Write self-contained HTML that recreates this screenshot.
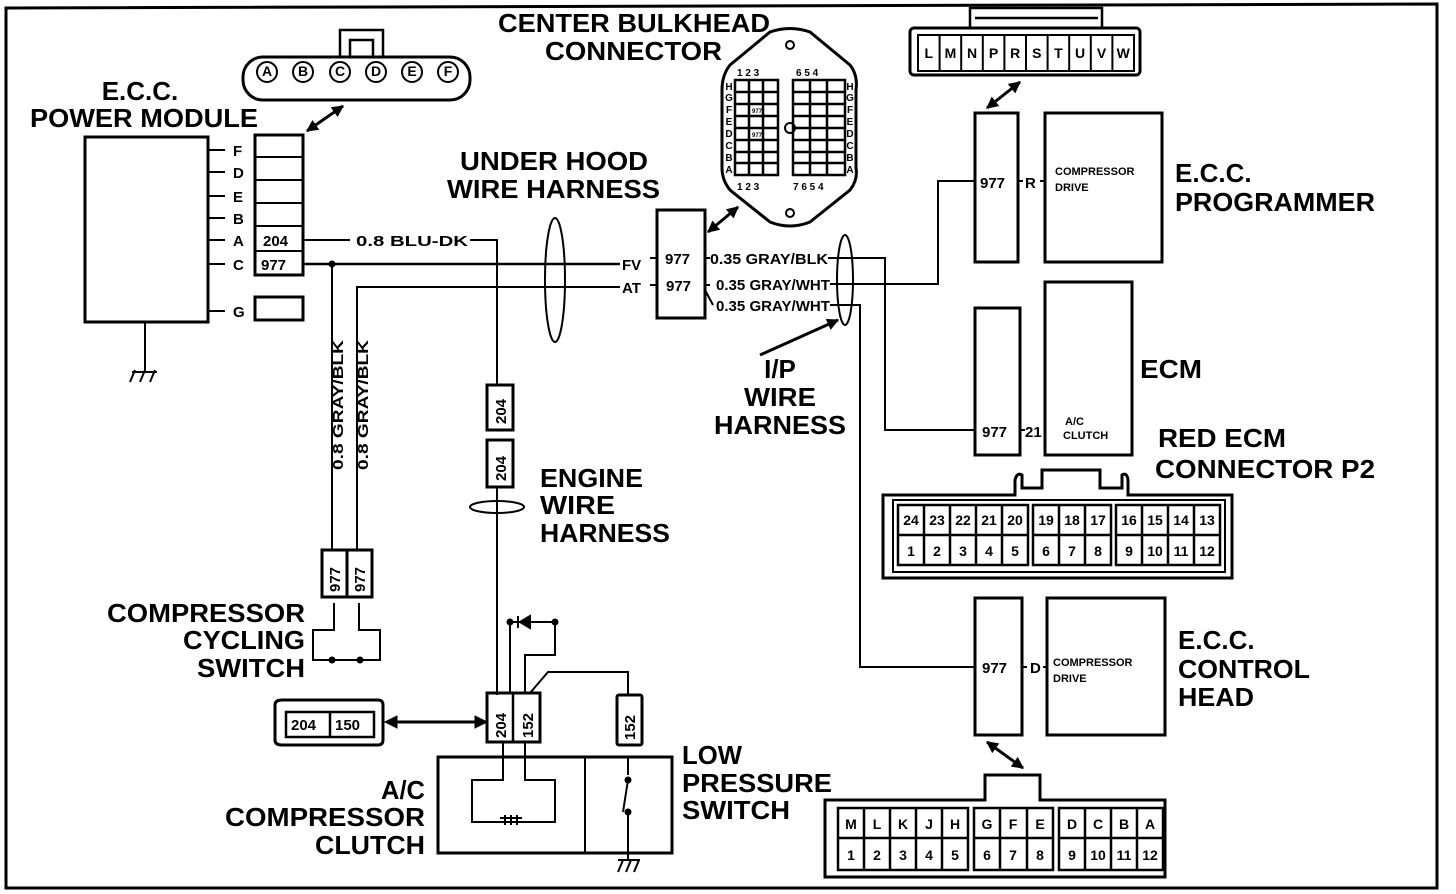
<!DOCTYPE html>
<html><head><meta charset="utf-8"><style>
html,body{margin:0;padding:0;background:#fff;}
svg{display:block;}
text{font-family:"Liberation Sans",sans-serif;fill:#000;}
.t{font-size:26px;font-weight:bold;}
.s{font-size:15px;font-weight:bold;}
.x{font-size:11px;font-weight:bold;}
.c{font-size:14px;font-weight:bold;text-anchor:middle;}
</style></head><body>
<svg width="1456" height="894" viewBox="0 0 1456 894" xmlns="http://www.w3.org/2000/svg">
<defs>
<marker id="ah" viewBox="0 0 10 10" refX="9" refY="5" markerWidth="4" markerHeight="4" orient="auto-start-reverse" markerUnits="strokeWidth">
<path d="M0 0 L10 5 L0 10 Z" fill="#000"/></marker>
</defs>
<g fill="none" stroke="#000">
<path d="M6 8 L1437 4 L1437 888 L6 888 Z" stroke-width="3"/>
<rect x="85" y="137" width="123" height="185" stroke-width="3"/>
<path d="M145 322 V372 M130 382 l5 -12 M140 382 l5 -12 M150 382 l5 -12 M132 372 h25" stroke-width="2"/>
<path d="M208 150 h17 M208 172 h17 M208 196 h17 M208 218 h17 M208 240 h17 M208 264 h17 M208 311 h17" stroke-width="2"/>
<rect x="255" y="135" width="48" height="140" stroke-width="3"/>
<path d="M255 157 h48 M255 180 h48 M255 203 h48 M255 226 h48 M255 251 h48" stroke-width="2"/>
<rect x="255" y="297" width="48" height="23" stroke-width="3"/>
<rect x="243" y="57" width="227" height="43" rx="20" stroke-width="3"/>
<path d="M340 57 V30 H383 V57 M350 57 V40 H373 V57" stroke-width="2.5"/>
<g stroke-width="2"><circle cx="267" cy="72" r="10"/><circle cx="303" cy="72" r="10"/><circle cx="340" cy="72" r="10"/><circle cx="376" cy="72" r="10"/><circle cx="412" cy="72" r="10"/><circle cx="448" cy="72" r="10"/></g>
<path d="M307 131 L343 106" stroke-width="3" marker-start="url(#ah)" marker-end="url(#ah)"/>
<path d="M303 240 H350 M470 240 H497 V385" stroke-width="2"/>
<path d="M303 264 H620" stroke-width="2.5"/>
<path d="M332 264 V550 M357 550 V287 H620" stroke-width="2"/>
<ellipse cx="555" cy="280" rx="10" ry="62" stroke-width="2"/>
<ellipse cx="497" cy="507" rx="27" ry="6" stroke-width="2"/>
<rect x="487" y="385" width="26" height="45" stroke-width="3"/>
<rect x="487" y="440" width="26" height="47" stroke-width="3"/>
<path d="M497 487 V695" stroke-width="2"/>
<rect x="657" y="210" width="48" height="108" stroke-width="3"/>
<path d="M650 258 h7 M650 285 h7" stroke-width="2"/>
<path d="M708 232 L738 207" stroke-width="3" marker-start="url(#ah)" marker-end="url(#ah)"/>
<path d="M770 32 Q790 25 810 32 L850 65 Q858 75 856 90 L856 168 Q858 180 850 190 L810 222 Q790 230 770 222 L730 190 Q722 180 722 168 L722 90 Q722 75 730 65 Z" stroke-width="3"/>
<circle cx="790" cy="45" r="4" stroke-width="2"/><circle cx="790" cy="128" r="5" stroke-width="2"/><circle cx="790" cy="213" r="4" stroke-width="2"/>
<g stroke-width="2.5">
<rect x="735" y="80" width="43" height="95"/>
<path d="M735 92 h43 M735 104 h43 M735 116 h43 M735 128 h43 M735 140 h43 M735 152 h43 M735 163 h43 M749 80 v95 M763 80 v95"/>
<rect x="793" y="80" width="52" height="95"/>
<path d="M793 92 h52 M793 104 h52 M793 116 h52 M793 128 h52 M793 140 h52 M793 152 h52 M793 163 h52 M810 80 v95 M827 80 v95"/>
</g>
<path d="M705 258 h5 M705 285 h5 M705 290 l8 15" stroke-width="2"/>
<path d="M828 258 H885 V430 H975" stroke-width="2"/>
<path d="M830 284 H938 V181 H975" stroke-width="2"/>
<path d="M830 305 H860 V667 H975" stroke-width="2"/>
<ellipse cx="845" cy="280" rx="8" ry="45" stroke-width="2"/>
<path d="M760 355 L838 320" stroke-width="3" marker-end="url(#ah)"/>
<rect x="910" y="28" width="230" height="47" rx="4" stroke-width="3"/>
<path d="M970 28 V8 H1102 V28 M975 18 H1098" stroke-width="2.5"/>
<rect x="918" y="35" width="216" height="36" stroke-width="2"/>
<path d="M939.6 35 v36 M961.2 35 v36 M982.8 35 v36 M1004.4 35 v36 M1026 35 v36 M1047.6 35 v36 M1069.2 35 v36 M1090.8 35 v36 M1112.4 35 v36" stroke-width="2"/>
<path d="M987 108 L1020 82" stroke-width="3" marker-start="url(#ah)" marker-end="url(#ah)"/>
<rect x="975" y="113" width="43" height="149" stroke-width="3"/>
<rect x="1045" y="113" width="117" height="149" stroke-width="3"/>
<path d="M1018 181 h5 M1040 181 h5" stroke-width="2"/>
<rect x="975" y="308" width="45" height="147" stroke-width="3"/>
<rect x="1045" y="282" width="87" height="173" stroke-width="3"/>
<path d="M1020 430 h5" stroke-width="2"/>
<path d="M883 495 H1015 V480 Q1017 472 1022 475 V488 H1042 V470 H1100 V488 H1122 V475 Q1127 472 1128 480 V495 H1232 V578 H883 Z" stroke-width="3"/>
<rect x="893" y="500" width="332" height="72" stroke-width="2"/>
<g stroke-width="2.5">
<rect x="898" y="505" width="130" height="60"/><rect x="1033" y="505" width="78" height="60"/><rect x="1116" y="505" width="104" height="60"/>
<path d="M898 535 h130 M1033 535 h78 M1116 535 h104 M924 505 v60 M950 505 v60 M976 505 v60 M1002 505 v60 M1059 505 v60 M1085 505 v60 M1142 505 v60 M1168 505 v60 M1194 505 v60"/>
</g>
<rect x="975" y="598" width="47" height="137" stroke-width="3"/>
<rect x="1047" y="598" width="118" height="137" stroke-width="3"/>
<path d="M1022 667 h5 M1043 667 h5" stroke-width="2"/>
<path d="M987 742 L1023 768" stroke-width="3" marker-start="url(#ah)" marker-end="url(#ah)"/>
<path d="M825 800 H985 V775 H1040 V800 H1165 V877 H825 Z" stroke-width="3"/>
<g stroke-width="2.5">
<rect x="838" y="808" width="130" height="62"/><rect x="974" y="808" width="79" height="62"/><rect x="1059" y="808" width="104" height="62"/>
<path d="M838 838 h130 M974 838 h79 M1059 838 h104 M864 808 v62 M890 808 v62 M916 808 v62 M942 808 v62 M1000 808 v62 M1027 808 v62 M1085 808 v62 M1111 808 v62 M1137 808 v62"/>
</g>
<rect x="322" y="550" width="25" height="47" stroke-width="3"/>
<rect x="347" y="550" width="25" height="47" stroke-width="3"/>
<path d="M334 603 V630 H313 V660 H380 V630 H359 V603" stroke-width="2"/>
<circle cx="332" cy="660" r="3" fill="#000"/><circle cx="360" cy="660" r="3" fill="#000"/>
<circle cx="332" cy="264" r="3" fill="#000"/>
<path d="M275 705 Q275 700 282 700 H378 Q383 700 383 705 V740 Q383 745 378 745 H282 Q275 745 275 740 Z" stroke-width="3"/>
<rect x="286" y="712" width="88" height="25" stroke-width="2.5"/><path d="M330 712 v25" stroke-width="2.5"/>
<path d="M390 722 H480" stroke-width="3"/>
<path d="M385 722 l12 -6 v12 Z M487 722 l-12 -6 v12 Z" fill="#000"/>
<rect x="487" y="693" width="53" height="49" stroke-width="3"/><path d="M513 693 v49" stroke-width="2.5"/>
<path d="M510 693 V622 H555 V655 H525 V693" stroke-width="2"/>
<path d="M518 616 v12 M530 616 l-10 6 l10 6 Z" stroke-width="2" fill="#000"/>
<circle cx="510" cy="622" r="3" fill="#000"/><circle cx="555" cy="622" r="3" fill="#000"/>
<path d="M530 693 L548 672 H628 V695" stroke-width="2"/>
<rect x="617" y="695" width="25" height="50" rx="2" stroke-width="3"/>
<rect x="438" y="757" width="234" height="96" stroke-width="3"/>
<path d="M585 757 V853" stroke-width="2"/>
<path d="M503 742 V780 H472 V822 H555 V780 H525 V742" stroke-width="2"/>
<path d="M505 815 v10 M511 815 v10 M517 815 v10 M500 818 h22" stroke-width="2"/>
<path d="M628 757 V775 M628 780 L623 812 M628 812 V860 M618 872 l5 -12 M626 872 l5 -12 M634 872 l5 -12 M618 860 h22" stroke-width="2"/>
<circle cx="628" cy="780" r="3" fill="#000"/><circle cx="628" cy="812" r="3" fill="#000"/>
</g>

<text class="t" x="140" y="100" text-anchor="middle">E.C.C.</text>
<text class="t" x="30" y="127" textLength="228" lengthAdjust="spacingAndGlyphs">POWER MODULE</text>
<g class="s">
<text x="233" y="156">F</text><text x="233" y="178">D</text><text x="233" y="202">E</text><text x="233" y="224">B</text><text x="233" y="246">A</text><text x="233" y="270">C</text><text x="233" y="317">G</text>
<text x="263" y="246">204</text><text x="261" y="270">977</text>
<text x="356" y="246" textLength="112" lengthAdjust="spacingAndGlyphs">0.8 BLU-DK</text>
<text x="622" y="270">FV</text><text x="622" y="293">AT</text>
<text x="665" y="264">977</text><text x="666" y="291">977</text>
<text x="710" y="264" textLength="118" lengthAdjust="spacingAndGlyphs">0.35 GRAY/BLK</text>
<text x="716" y="290" textLength="114" lengthAdjust="spacingAndGlyphs">0.35 GRAY/WHT</text>
<text x="716" y="311" textLength="114" lengthAdjust="spacingAndGlyphs">0.35 GRAY/WHT</text>
<text x="980" y="188">977</text><text x="1025" y="188">R</text>
<text x="982" y="437">977</text><text x="1025" y="437">21</text>
<text x="982" y="673">977</text><text x="1030" y="673">D</text>
<text transform="translate(343,470) rotate(-90)" textLength="130" lengthAdjust="spacingAndGlyphs">0.8 GRAY/BLK</text>
<text transform="translate(368,470) rotate(-90)" textLength="130" lengthAdjust="spacingAndGlyphs">0.8 GRAY/BLK</text>
<text transform="translate(506,424) rotate(-90)">204</text>
<text transform="translate(506,481) rotate(-90)">204</text>
<text transform="translate(340,592) rotate(-90)">977</text>
<text transform="translate(365,592) rotate(-90)">977</text>
<text transform="translate(506,738) rotate(-90)">204</text>
<text transform="translate(533,738) rotate(-90)">152</text>
<text transform="translate(635,740) rotate(-90)">152</text>
<text x="291" y="730">204</text><text x="335" y="730">150</text>
</g>
<g class="x">
<text x="1055" y="175">COMPRESSOR</text><text x="1055" y="191">DRIVE</text>
<text x="1065" y="425">A/C</text><text x="1063" y="439">CLUTCH</text>
<text x="1053" y="666">COMPRESSOR</text><text x="1053" y="682">DRIVE</text>
</g>
<g class="c" font-size="13">
<text x="928.8" y="58">L</text><text x="950.4" y="58">M</text><text x="972" y="58">N</text><text x="993.6" y="58">P</text><text x="1015.2" y="58">R</text><text x="1036.8" y="58">S</text><text x="1058.4" y="58">T</text><text x="1080" y="58">U</text><text x="1101.6" y="58">V</text><text x="1123.2" y="58">W</text>
</g>
<g class="c" font-size="13">
<text x="911" y="525">24</text><text x="937" y="525">23</text><text x="963" y="525">22</text><text x="989" y="525">21</text><text x="1015" y="525">20</text><text x="1046" y="525">19</text><text x="1072" y="525">18</text><text x="1098" y="525">17</text><text x="1129" y="525">16</text><text x="1155" y="525">15</text><text x="1181" y="525">14</text><text x="1207" y="525">13</text>
<text x="911" y="556">1</text><text x="937" y="556">2</text><text x="963" y="556">3</text><text x="989" y="556">4</text><text x="1015" y="556">5</text><text x="1046" y="556">6</text><text x="1072" y="556">7</text><text x="1098" y="556">8</text><text x="1129" y="556">9</text><text x="1155" y="556">10</text><text x="1181" y="556">11</text><text x="1207" y="556">12</text>
<text x="851" y="829">M</text><text x="877" y="829">L</text><text x="903" y="829">K</text><text x="929" y="829">J</text><text x="955" y="829">H</text><text x="987" y="829">G</text><text x="1013" y="829">F</text><text x="1040" y="829">E</text><text x="1072" y="829">D</text><text x="1098" y="829">C</text><text x="1124" y="829">B</text><text x="1150" y="829">A</text>
<text x="851" y="860">1</text><text x="877" y="860">2</text><text x="903" y="860">3</text><text x="929" y="860">4</text><text x="955" y="860">5</text><text x="987" y="860">6</text><text x="1013" y="860">7</text><text x="1040" y="860">8</text><text x="1072" y="860">9</text><text x="1098" y="860">10</text><text x="1124" y="860">11</text><text x="1150" y="860">12</text>
</g>
<g class="c" font-size="11">
<text x="267" y="76">A</text><text x="303" y="76">B</text><text x="340" y="76">C</text><text x="376" y="76">D</text><text x="412" y="76">E</text><text x="448" y="76">F</text>
</g>
<g font-size="10" font-weight="bold">
<text x="737" y="76">1  2  3</text><text x="796" y="76">6  5  4</text>
<text x="737" y="190">1  2  3</text><text x="793" y="190">7  6  5  4</text>
<text x="752" y="113" font-size="6">977</text><text x="752" y="137" font-size="6">977</text>
</g>
<g font-size="10" font-weight="bold" text-anchor="middle">
<text x="729" y="90">H</text><text x="729" y="101">G</text><text x="729" y="113">F</text><text x="729" y="125">E</text><text x="729" y="137">D</text><text x="729" y="149">C</text><text x="729" y="161">B</text><text x="729" y="173">A</text>
<text x="850" y="90">H</text><text x="850" y="101">G</text><text x="850" y="113">F</text><text x="850" y="125">E</text><text x="850" y="137">D</text><text x="850" y="149">C</text><text x="850" y="161">B</text><text x="850" y="173">A</text>
</g>
<g class="t">
<text x="498" y="32" textLength="272" lengthAdjust="spacingAndGlyphs">CENTER BULKHEAD</text>
<text x="545" y="60" textLength="177" lengthAdjust="spacingAndGlyphs">CONNECTOR</text>
<text x="460" y="170" textLength="188" lengthAdjust="spacingAndGlyphs">UNDER HOOD</text>
<text x="447" y="198" textLength="213" lengthAdjust="spacingAndGlyphs">WIRE HARNESS</text>
<text x="1175" y="182">E.C.C.</text>
<text x="1175" y="211" textLength="200" lengthAdjust="spacingAndGlyphs">PROGRAMMER</text>
<text x="1140" y="378" textLength="62" lengthAdjust="spacingAndGlyphs">ECM</text>
<text x="1158" y="447" textLength="128" lengthAdjust="spacingAndGlyphs">RED ECM</text>
<text x="1155" y="478" textLength="220" lengthAdjust="spacingAndGlyphs">CONNECTOR P2</text>
<text x="780" y="378" text-anchor="middle">I/P</text>
<text x="780" y="406" text-anchor="middle" textLength="72" lengthAdjust="spacingAndGlyphs">WIRE</text>
<text x="780" y="434" text-anchor="middle" textLength="132" lengthAdjust="spacingAndGlyphs">HARNESS</text>
<text x="540" y="487" textLength="103" lengthAdjust="spacingAndGlyphs">ENGINE</text>
<text x="540" y="514" textLength="75" lengthAdjust="spacingAndGlyphs">WIRE</text>
<text x="540" y="542" textLength="130" lengthAdjust="spacingAndGlyphs">HARNESS</text>
<text x="305" y="622" text-anchor="end" textLength="198" lengthAdjust="spacingAndGlyphs">COMPRESSOR</text>
<text x="305" y="649" text-anchor="end" textLength="122" lengthAdjust="spacingAndGlyphs">CYCLING</text>
<text x="305" y="677" text-anchor="end" textLength="108" lengthAdjust="spacingAndGlyphs">SWITCH</text>
<text x="425" y="799" text-anchor="end" textLength="44" lengthAdjust="spacingAndGlyphs">A/C</text>
<text x="425" y="826" text-anchor="end" textLength="200" lengthAdjust="spacingAndGlyphs">COMPRESSOR</text>
<text x="425" y="854" text-anchor="end" textLength="110" lengthAdjust="spacingAndGlyphs">CLUTCH</text>
<text x="682" y="764" textLength="60" lengthAdjust="spacingAndGlyphs">LOW</text>
<text x="682" y="792" textLength="150" lengthAdjust="spacingAndGlyphs">PRESSURE</text>
<text x="682" y="819" textLength="108" lengthAdjust="spacingAndGlyphs">SWITCH</text>
<text x="1178" y="649">E.C.C.</text>
<text x="1178" y="678" textLength="132" lengthAdjust="spacingAndGlyphs">CONTROL</text>
<text x="1178" y="706" textLength="76" lengthAdjust="spacingAndGlyphs">HEAD</text>
</g>
</svg>
</body></html>
